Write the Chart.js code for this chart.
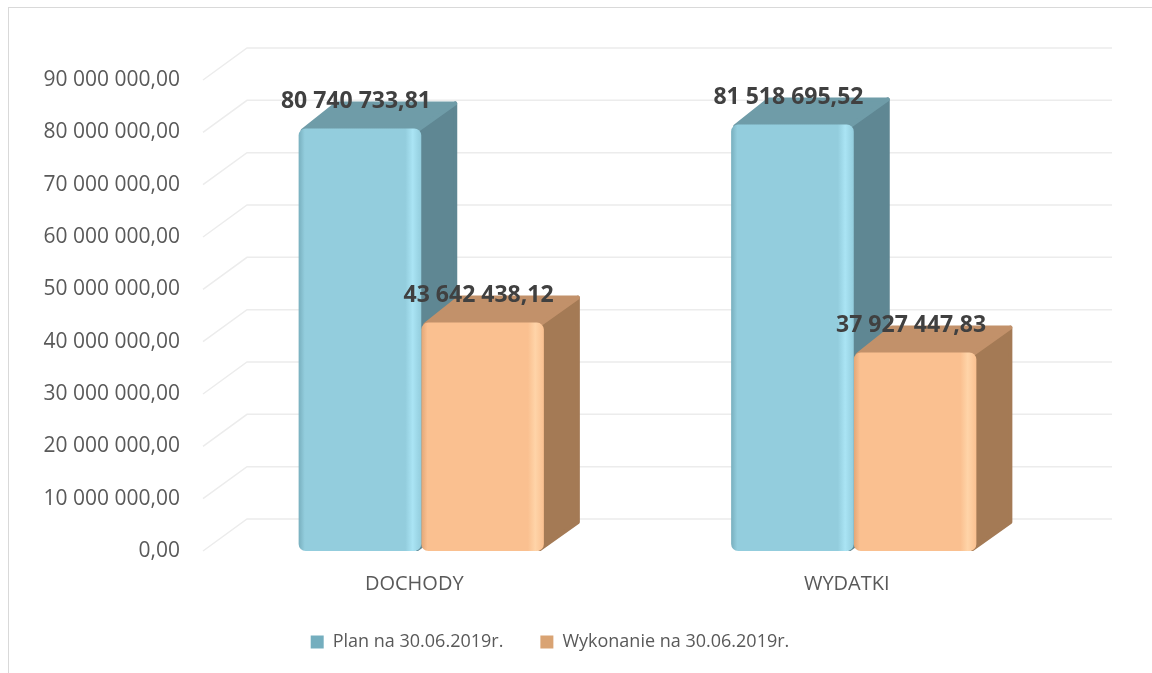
<!DOCTYPE html>
<html>
<head>
<meta charset="utf-8">
<script src="https://cdn.jsdelivr.net/npm/chart.js@4/dist/chart.umd.min.js"></script>
<style>
  html, body { margin: 0; padding: 0; background: #ffffff; overflow: hidden; }
  #frame { position: absolute; left: 8px; top: 7px; width: 1200px; height: 700px; border: 1px solid #d9d9d9; box-sizing: border-box; }
  #c { position: absolute; left: 0; top: 0; }
</style>
</head>
<body>
<div id="frame"></div>
<canvas id="c" width="1152" height="673"></canvas>
<script>
// ---- data ----
const categories = ['DOCHODY', 'WYDATKI'];
const seriesNames = ['Plan na 30.06.2019r.', 'Wykonanie na 30.06.2019r.'];
const planValues = [80740733.81, 81518695.52];
const wykonanieValues = [43642438.12, 37927447.83];
const yMin = 0;
const yMax = 90000000;
const yStep = 10000000;

// ---- styling ----
const CAT_PCT = 0.567;
const BAR_DX = 36, BAR_DY = -27;   // bar depth
const WALL_DX = 42, WALL_DY = -32; // wall depth
const palette = [
  { front: '#93CDDD', light: '#AAE4F4', dark: '#78AFBE', side: '#5F8793', top: '#6F9CA8', legend: '#74AEBE' },
  { front: '#FAC090', light: '#FFD4A8', dark: '#E2A676', side: '#A47A55', top: '#C2916A', legend: '#D9A373' }
];

function fmt(v, dec) {
  const neg = v < 0; v = Math.abs(v);
  const fixed = v.toFixed(dec);
  const parts = fixed.split('.');
  const intPart = parts[0].replace(/\B(?=(\d{3})+(?!\d))/g, ' ');
  return (neg ? '-' : '') + intPart + ',' + (parts[1] || '00');
}

function frontGradient(c) {
  const i = c.datasetIndex;
  const p = palette[i];
  const chart = c.chart;
  const xs = chart.scales && chart.scales.x;
  if (!xs || c.type !== 'data' || xs.width === undefined) return p.front;
  const center = xs.getPixelForValue(c.dataIndex);
  const catW = xs.width / categories.length;
  const barW = catW * CAT_PCT / 2;
  const left = center - catW * CAT_PCT / 2 + i * barW;
  if (!isFinite(left)) return p.front;
  const g = chart.ctx.createLinearGradient(left, 0, left + barW, 0);
  g.addColorStop(0, p.dark);
  g.addColorStop(0.05, p.front);
  g.addColorStop(0.87, p.front);
  g.addColorStop(0.93, p.light);
  g.addColorStop(1, p.front);
  return g;
}

const depthPlugin = {
  id: 'depth3d',
  beforeDatasetsDraw(chart) {
    const ctx = chart.ctx;
    const a = chart.chartArea;
    const ys = chart.scales.y;
    // back wall gridlines
    ctx.save();
    ctx.strokeStyle = '#ececec';
    ctx.lineWidth = 1.5;
    ys.ticks.forEach(t => {
      const py = ys.getPixelForValue(t.value);
      ctx.beginPath();
      ctx.moveTo(a.left - 2, py);
      ctx.lineTo(a.left + WALL_DX, py + WALL_DY);
      ctx.lineTo(a.right + WALL_DX, py + WALL_DY);
      ctx.stroke();
    });
    ctx.restore();
    // side and top faces
    ctx.save();
    ctx.lineJoin = 'round';
    for (let j = 0; j < categories.length; j++) {
      for (let i = 0; i < chart.data.datasets.length; i++) {
        const meta = chart.getDatasetMeta(i);
        const el = meta.data[j];
        if (!el) continue;
        const { x, y, base, width } = el.getProps(['x', 'y', 'base', 'width'], true);
        const l = x - width / 2, r = x + width / 2;
        const p = palette[i];
        // side
        ctx.fillStyle = p.side; ctx.strokeStyle = p.side; ctx.lineWidth = 4;
        ctx.beginPath();
        ctx.moveTo(r - 4, y + 2);
        ctx.lineTo(r + BAR_DX - 2, y + BAR_DY + 2);
        ctx.lineTo(r + BAR_DX - 2, base + BAR_DY - 2);
        ctx.lineTo(r - 4, base - 2);
        ctx.closePath();
        ctx.fill(); ctx.stroke();
        // top
        ctx.fillStyle = p.top; ctx.strokeStyle = p.top;
        ctx.beginPath();
        ctx.moveTo(l + 4, y + 2);
        ctx.lineTo(l + BAR_DX + 2, y + BAR_DY + 2);
        ctx.lineTo(r + BAR_DX - 2, y + BAR_DY + 2);
        ctx.lineTo(r - 4, y + 2);
        ctx.closePath();
        ctx.fill(); ctx.stroke();
      }
    }
    ctx.restore();
  },
  afterDatasetsDraw(chart) {
    const ctx = chart.ctx;
    ctx.save();
    ctx.font = 'bold 23px "Open Sans"';
    ctx.fillStyle = '#404040';
    ctx.textAlign = 'center';
    ctx.textBaseline = 'middle';
    chart.data.datasets.forEach((ds, i) => {
      chart.getDatasetMeta(i).data.forEach((el, j) => {
        const { x, y } = el.getProps(['x', 'y'], true);
        ctx.fillText(fmt(ds.data[j], 2), x - 4, y - 27);
      });
    });
    ctx.restore();
  }
};

const chart = new Chart(document.getElementById('c'), {
  type: 'bar',
  data: {
    labels: categories,
    datasets: [
      { label: seriesNames[0], data: planValues, backgroundColor: frontGradient, borderRadius: 7, borderSkipped: false, borderWidth: 0 },
      { label: seriesNames[1], data: wykonanieValues, backgroundColor: frontGradient, borderRadius: 7, borderSkipped: false, borderWidth: 0 }
    ]
  },
  options: {
    responsive: false,
    devicePixelRatio: 1,
    animation: false,
    datasets: { bar: { categoryPercentage: CAT_PCT, barPercentage: 1 } },
    layout: { padding: { left: 30, right: 82, top: 80, bottom: 12 } },
    scales: {
      x: {
        afterFit(scale) { scale.height = 45; },
        grid: { display: false, drawTicks: false },
        border: { display: false },
        ticks: { font: { family: 'Open Sans', size: 20 }, color: '#595959', padding: 21, labelOffset: -7 }
      },
      y: {
        min: yMin, max: yMax,
        afterFit(scale) { scale.width = 175; },
        grid: { display: false, drawTicks: false },
        border: { display: false },
        ticks: {
          stepSize: yStep,
          padding: 25,
          font: { family: 'Open Sans', size: 21 },
          color: '#595959',
          callback: v => fmt(v, 2)
        }
      }
    },
    plugins: {
      legend: {
        position: 'bottom',
        labels: {
          boxWidth: 13, boxHeight: 13, padding: 37,
          font: { family: 'Open Sans', size: 18 },
          color: '#595959',
          generateLabels(ch) {
            return ch.data.datasets.map((ds, i) => ({
              text: ds.label, fillStyle: palette[i].legend, strokeStyle: palette[i].legend,
              lineWidth: 0, hidden: false, datasetIndex: i, fontColor: '#595959'
            }));
          }
        }
      },
      tooltip: { enabled: false }
    }
  },
  plugins: [depthPlugin]
});
</script>
</body>
</html>
